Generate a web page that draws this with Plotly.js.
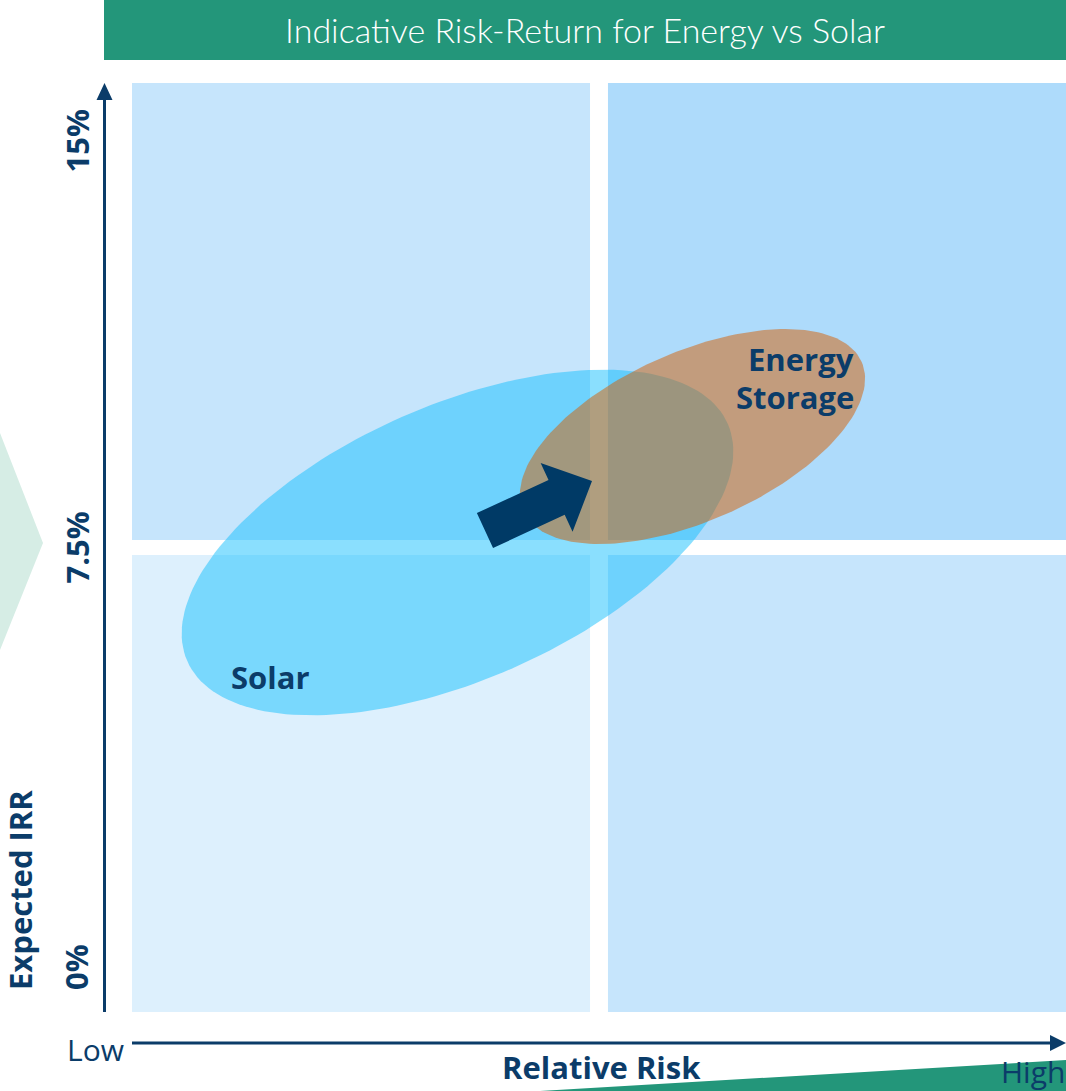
<!DOCTYPE html>
<html>
<head>
<meta charset="utf-8">
<script src="https://cdn.plot.ly/plotly-3.0.1.min.js"></script>
<style>html,body{margin:0;padding:0;background:#fff;}#chart{width:1066px;height:1091px;}</style>
</head>
<body>
<div id="chart"></div>
<script>
// ---------------- data ----------------
const chartTitle = "Indicative Risk-Return for Energy vs Solar";
const xTitle = "Relative Risk";
const yTitle = "Expected IRR";
const xEndLabels = ["Low", "High"];
const yTickVals = [0, 7.5, 15];
const yTickText = ["0%", "7.5%", "15%"];
// quadrant cells (risk 0-10, IRR 0-15 %)
const quadX0 = [0, 5.096, 0, 5.096];
const quadX1 = [4.904, 10, 4.904, 10];
const quadY0 = [7.621, 7.621, 0, 0];
const quadY1 = [15, 15, 7.379, 7.379];
const quadColors = ["#C6E5FC", "#AEDBFB", "#DDF0FD", "#C6E5FC"];
// technology regions
const techNames = ["Solar", "Energy Storage"];
const techRisk = [3.485, 6.001];      // centre, relative risk
const techIRR = [7.581, 9.292];       // centre, expected IRR %
const techSemiMajor = [3.16, 1.98];   // in risk units
const techSemiMinor = [1.47, 0.905];
const techTiltDeg = [23.7, 23.8];
const techFill = ["rgba(21,191,253,0.5)", "rgba(214,93,0,0.5)"];
// transition arrow (risk, IRR)
const arrowFrom = [3.779, 7.774];
const arrowTo = [4.925, 8.574];

// ---------------- geometry ----------------
const W = 1066, H = 1091;
const M = {l: 132, r: 0, t: 83, b: 79};
const PW = W - M.l - M.r, PH = H - M.t - M.b;
const XR = [0, 10], YR = [0, 15];
const pxX = PW / (XR[1] - XR[0]);
const pxY = PH / (YR[1] - YR[0]);
const px2paperX = px => (px - M.l) / PW;
const px2paperY = py => (H - M.b - py) / PH;

function ellipse(cx, cy, a, b, deg) {
  const th = deg * Math.PI / 180, k = pxX / pxY;
  const xs = [], ys = [];
  for (let i = 0; i <= 180; i++) {
    const t = i / 180 * 2 * Math.PI;
    const ex = a * Math.cos(t), ey = b * Math.sin(t);
    xs.push(cx + ex * Math.cos(th) - ey * Math.sin(th));
    ys.push(cy + (ex * Math.sin(th) + ey * Math.cos(th)) * k);
  }
  return {xs, ys};
}

function blockArrow(from, to) {
  // work in pixel space
  const x0 = from[0] * pxX, y0 = from[1] * pxY, x1 = to[0] * pxX, y1 = to[1] * pxY;
  const dx = x1 - x0, dy = y1 - y0, L = Math.hypot(dx, dy);
  const ux = dx / L, uy = dy / L, nx = -uy, ny = ux;
  const sw = 19.25, hw = 38, hl = 39;
  const bx = x1 - hl * ux, by = y1 - hl * uy;
  const pts = [
    [x0 + sw * nx, y0 + sw * ny], [bx + sw * nx, by + sw * ny], [bx + hw * nx, by + hw * ny],
    [x1, y1],
    [bx - hw * nx, by - hw * ny], [bx - sw * nx, by - sw * ny], [x0 - sw * nx, y0 - sw * ny],
    [x0 + sw * nx, y0 + sw * ny]
  ];
  return {xs: pts.map(p => p[0] / pxX), ys: pts.map(p => p[1] / pxY)};
}

const navy = "#0B3C69";
const green = "#23967A";

const traces = [];
techNames.forEach((n, i) => {
  const e = ellipse(techRisk[i], techIRR[i], techSemiMajor[i], techSemiMinor[i], techTiltDeg[i]);
  traces.push({
    type: "scatter", mode: "lines", x: e.xs, y: e.ys, fill: "toself",
    fillcolor: techFill[i], line: {width: 0, color: "rgba(0,0,0,0)"},
    hoverinfo: "skip", name: n, showlegend: false
  });
});
const arr = blockArrow(arrowFrom, arrowTo);
traces.push({
  type: "scatter", mode: "lines", x: arr.xs, y: arr.ys, fill: "toself",
  fillcolor: "#003A66", line: {width: 0, color: "rgba(0,0,0,0)"}, hoverinfo: "skip", showlegend: false
});

const shapes = [];
for (let i = 0; i < quadColors.length; i++) {
  shapes.push({type: "rect", xref: "x", yref: "y", x0: quadX0[i], x1: quadX1[i], y0: quadY0[i], y1: quadY1[i],
    fillcolor: quadColors[i], line: {width: 0}, layer: "below"});
}
// title bar
shapes.push({type: "rect", xref: "paper", yref: "paper", x0: px2paperX(104), x1: 1, y0: px2paperY(60), y1: px2paperY(0),
  fillcolor: green, line: {width: 0}, layer: "below"});
// left chevron
shapes.push({type: "path", xref: "paper", yref: "paper",
  path: `M ${px2paperX(-2)} ${px2paperY(428)} L ${px2paperX(43)} ${px2paperY(543)} L ${px2paperX(-2)} ${px2paperY(655)} Z`,
  fillcolor: "#D6EDE5", line: {width: 0}, layer: "below"});
// bottom wedge
shapes.push({type: "path", xref: "paper", yref: "paper",
  path: `M ${px2paperX(523)} ${px2paperY(1092)} L ${px2paperX(1067)} ${px2paperY(1060)} L ${px2paperX(1067)} ${px2paperY(1092)} Z`,
  fillcolor: green, line: {width: 0}, layer: "below"});
// y axis arrow
shapes.push({type: "line", xref: "paper", yref: "paper", x0: px2paperX(104.5), x1: px2paperX(104.5),
  y0: px2paperY(1012), y1: px2paperY(95), line: {color: navy, width: 3}});
shapes.push({type: "path", xref: "paper", yref: "paper",
  path: `M ${px2paperX(96.5)} ${px2paperY(100)} L ${px2paperX(104.5)} ${px2paperY(83)} L ${px2paperX(112.5)} ${px2paperY(100)} Z`,
  fillcolor: navy, line: {width: 0}});
// x axis arrow
shapes.push({type: "line", xref: "paper", yref: "paper", x0: px2paperX(132), x1: px2paperX(1054),
  y0: px2paperY(1043), y1: px2paperY(1043), line: {color: navy, width: 3}});
shapes.push({type: "path", xref: "paper", yref: "paper",
  path: `M ${px2paperX(1050)} ${px2paperY(1035)} L ${px2paperX(1066)} ${px2paperY(1043)} L ${px2paperX(1050)} ${px2paperY(1051)} Z`,
  fillcolor: navy, line: {width: 0}});

const bold = {family: "'Open Sans', sans-serif", size: 31, color: navy, weight: 700};
const reg = {family: "'Open Sans', sans-serif", size: 30, color: navy, weight: 400};

const annotations = [];
// y tick labels
const tickAnchor = ["bottom", "middle", "top"];
const tickShift = [20, 0, -25];
yTickVals.forEach((v, i) => {
  annotations.push({xref: "paper", yref: "y", x: px2paperX(76), y: v, text: yTickText[i], showarrow: false,
    textangle: -90, xanchor: "center", yanchor: tickAnchor[i], yshift: tickShift[i], font: bold});
});
annotations.push({xref: "paper", yref: "paper", x: px2paperX(20), y: px2paperY(890), text: yTitle, showarrow: false,
  textangle: -90, xanchor: "center", yanchor: "middle", font: bold});
annotations.push({xref: "paper", yref: "paper", x: px2paperX(601), y: px2paperY(1067), text: xTitle, showarrow: false,
  xanchor: "center", yanchor: "middle", font: bold});
annotations.push({xref: "paper", yref: "paper", x: px2paperX(95), y: px2paperY(1049), text: xEndLabels[0], showarrow: false,
  xanchor: "center", yanchor: "middle", font: reg});
annotations.push({xref: "paper", yref: "paper", x: px2paperX(1033), y: px2paperY(1071), text: xEndLabels[1], showarrow: false,
  xanchor: "center", yanchor: "middle", font: reg});
// region labels
annotations.push({xref: "paper", yref: "paper", x: px2paperX(270), y: px2paperY(677), text: techNames[0], showarrow: false,
  xanchor: "center", yanchor: "middle", font: bold});
const esWords = techNames[1].split(" ");
annotations.push({xref: "paper", yref: "paper", x: px2paperX(856), y: px2paperY(359), text: esWords[0], showarrow: false,
  xanchor: "right", yanchor: "middle", font: bold});
annotations.push({xref: "paper", yref: "paper", x: px2paperX(856), y: px2paperY(397), text: esWords[1], showarrow: false,
  xanchor: "right", yanchor: "middle", font: bold});

const layout = {
  width: W, height: H, margin: M,
  paper_bgcolor: "#ffffff", plot_bgcolor: "rgba(0,0,0,0)",
  title: {text: chartTitle, xref: "container", yref: "container", x: 585 / W, y: 1 - 31 / H,
    xanchor: "center", yanchor: "middle", font: {family: "Lato, 'Open Sans', sans-serif", size: 34, color: "#ffffff", weight: 300}},
  xaxis: {range: XR, visible: false, fixedrange: true},
  yaxis: {range: YR, visible: false, fixedrange: true},
  showlegend: false, hovermode: false,
  shapes: shapes, annotations: annotations
};

Plotly.newPlot("chart", traces, layout, {displayModeBar: false, staticPlot: true});
</script>
</body>
</html>
